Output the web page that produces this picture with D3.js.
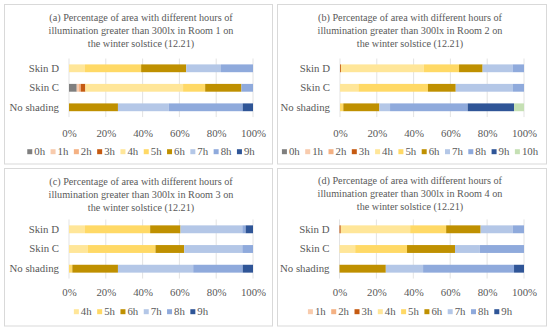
<!DOCTYPE html>
<html>
<head>
<meta charset="utf-8">
<script src="https://cdn.jsdelivr.net/npm/d3@7"></script>
<style>
  body { margin: 0; background: #fff; }
</style>
</head>
<body>
<svg id="chart" width="550" height="331"></svg>
<script>
const hours = ["0h", "1h", "2h", "3h", "4h", "5h", "6h", "7h", "8h", "9h", "10h"];
const hourColors = ["#7f7f7f", "#f8cbad", "#f4b183", "#c55a11", "#ffe699", "#ffd966",
                    "#bf9000", "#b4c7e7", "#8faadc", "#2f5597", "#c5e0b4"];
const categories = ["Skin D", "Skin C", "No shading"];
const tickValues = [0, 20, 40, 60, 80, 100];

// % of area per hour bucket (0h..10h)
const room1SkinD     = [0, 0, 0, 0, 8.7, 30.5, 24.5, 18.9, 17.4, 0, 0];
const room1SkinC     = [4.2, 1.0, 1.2, 2.5, 53.1, 12.0, 19.7, 0, 6.3, 0, 0];
const room1NoShading = [0, 0, 0, 0, 0, 0, 26.6, 27.6, 40.2, 5.6, 0];

const room2SkinD     = [0, 0, 0, 0.5, 45.1, 19.1, 12.8, 16.3, 6.2, 0, 0];
const room2SkinC     = [0, 0, 0, 0, 10.0, 37.8, 15.1, 31.1, 6.0, 0, 0];
const room2NoShading = [0, 0, 0, 0, 0, 1.8, 19.6, 5.8, 42.2, 25.2, 5.4];

const room3SkinD     = [0, 0, 0, 0, 8.7, 35.4, 16.5, 33.6, 1.8, 4.0, 0];
const room3SkinC     = [0, 0, 0, 0, 10.3, 36.7, 15.6, 31.6, 5.8, 0, 0];
const room3NoShading = [0, 0, 0, 0, 0, 1.8, 24.8, 40.9, 26.9, 5.6, 0];

const room4SkinD     = [0, 0, 0, 0.7, 37.6, 19.5, 18.7, 17.4, 6.1, 0, 0];
const room4SkinC     = [0, 0, 0, 0, 8.5, 28.1, 26.0, 13.4, 24.0, 0, 0];
const room4NoShading = [0, 0, 0, 0, 0, 0, 25.1, 20.2, 49.3, 5.4, 0];

const legend1 = ["0h", "1h", "2h", "3h", "4h", "5h", "6h", "7h", "8h", "9h"];
const legend2 = ["0h", "1h", "2h", "3h", "4h", "5h", "6h", "7h", "8h", "9h", "10h"];
const legend3 = ["4h", "5h", "6h", "7h", "8h", "9h"];
const legend4 = ["1h", "2h", "3h", "4h", "5h", "6h", "7h", "8h", "9h"];

const titleA = ["(a) Percentage of area with different hours of", "illumination greater than 300lx in Room 1 on", "the winter solstice (12.21)"];
const titleB = ["(b) Percentage of area with different hours of", "illumination greater than 300lx in Room 2 on", "the winter solstice (12.21)"];
const titleC = ["(c) Percentage of area with different hours of", "illumination greater than 300lx in Room 3 on", "the winter solstice (12.21)"];
const titleD = ["(d) Percentage of area with different hours of", "illumination greater than 300lx in Room 4 on", "the winter solstice (12.21)"];

const FONT = '"Liberation Serif", "DejaVu Serif", serif';
const TEXT_COLOR = "#595959";

const svg = d3.select("#chart");
const colorOf = d3.scaleOrdinal().domain(hours).range(hourColors);

const panels = [
    {title: titleA, rows: [room1SkinD, room1SkinC, room1NoShading], legend: legend1,
     box: [4, 4, 272, 163.5], cx: 141, titleY: 17, x: [69, 253], y: [58.55, 117.05], tickY: 133, legendY: 151.7},
    {title: titleB, rows: [room2SkinD, room2SkinC, room2NoShading], legend: legend2,
     box: [277, 4, 546, 163.5], cx: 410, titleY: 17, x: [340, 524], y: [58.55, 117.05], tickY: 133, legendY: 151.7},
    {title: titleC, rows: [room3SkinD, room3SkinC, room3NoShading], legend: legend3,
     box: [4, 168, 272, 325.5], cx: 141, titleY: 181.5, x: [69, 253], y: [219.45, 278.55], tickY: 292.7, legendY: 311.7},
    {title: titleD, rows: [room4SkinD, room4SkinC, room4NoShading], legend: legend4,
     box: [277, 168, 546, 325.5], cx: 410, titleY: 180.5, x: [339.5, 524], y: [219.45, 278.55], tickY: 292.7, legendY: 311.7}
];

panels.forEach(p => drawPanel(p));

function styleText(sel, size) {
    sel.attr("font-family", FONT).attr("font-size", size).attr("fill", TEXT_COLOR)
       .style("font-family", FONT).style("font-size", size + "px");
}

function drawPanel(p) {
    const g = svg.append("g");

    g.append("rect")
        .attr("x", p.box[0] + 0.5).attr("y", p.box[1] + 0.5)
        .attr("width", p.box[2] - p.box[0]).attr("height", p.box[3] - p.box[1])
        .attr("fill", "none").attr("stroke", "#d9d9d9");

    g.append("g").selectAll("text")
        .data(p.title)
        .join("text")
        .attr("x", p.cx)
        .attr("y", (d, i) => p.titleY + i * 13)
        .attr("dy", "0.35em")
        .attr("text-anchor", "middle")
        .text(d => d)
        .call(styleText, 10.2);

    const x = d3.scaleLinear().domain([0, 100]).range(p.x);
    const y = d3.scaleBand().domain(categories).range(p.y).paddingInner(0.6).paddingOuter(0.3);

    // gridlines
    g.append("g").selectAll("line")
        .data(tickValues)
        .join("line")
        .attr("x1", d => x(d)).attr("x2", d => x(d))
        .attr("y1", p.y[0]).attr("y2", p.y[1])
        .attr("stroke", "#d9d9d9").attr("stroke-width", 0.75);

    const table = categories.map((c, i) => {
        const row = {category: c};
        hours.forEach((h, j) => row[h] = p.rows[i][j]);
        return row;
    });
    const series = d3.stack().keys(hours)(table);

    g.append("g").selectAll("g")
        .data(series)
        .join("g")
        .attr("fill", d => colorOf(d.key))
        .selectAll("rect")
        .data(d => d)
        .join("rect")
        .attr("x", d => x(d[0]))
        .attr("y", d => y(d.data.category))
        .attr("width", d => x(d[1]) - x(d[0]))
        .attr("height", y.bandwidth());

    // category axis
    const yAxis = g.append("g")
        .attr("transform", `translate(${p.x[0]},0)`)
        .call(d3.axisLeft(y).tickSize(0).tickPadding(10));
    yAxis.select(".domain").remove();
    yAxis.selectAll("text").call(styleText, 10.8);

    // percentage axis
    const xAxis = g.append("g")
        .attr("transform", `translate(0,${p.tickY})`)
        .call(d3.axisBottom(x).tickValues(tickValues).tickFormat(d => d + "%").tickSize(0));
    xAxis.select(".domain").remove();
    xAxis.selectAll("text")
        .attr("y", 0).attr("dy", "0.35em")
        .call(styleText, 10.8);

    // legend
    const leg = g.append("g");
    const items = leg.selectAll("g")
        .data(p.legend)
        .join("g");
    items.append("rect")
        .attr("width", 5).attr("height", 5)
        .attr("y", -2.5)
        .attr("fill", d => colorOf(d));
    items.append("text")
        .attr("x", 7).attr("dy", "0.35em")
        .text(d => d)
        .call(styleText, 10.8);
    let cur = 0;
    items.each(function () {
        const w = d3.select(this).select("text").node().getComputedTextLength();
        d3.select(this).attr("transform", `translate(${cur},0)`);
        cur += 7 + w + 5.5;
    });
    const total = cur - 5.5;
    leg.attr("transform", `translate(${p.cx - total / 2},${p.legendY})`);
}
</script>
</body>
</html>
